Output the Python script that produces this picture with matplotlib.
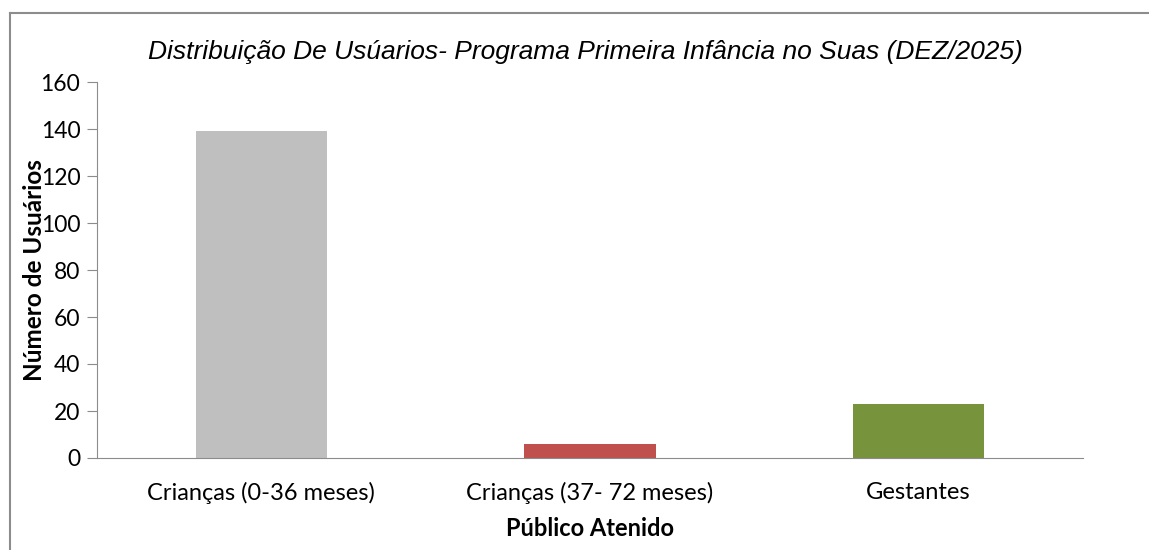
import matplotlib.pyplot as plt
from matplotlib.lines import Line2D

categorias = ['Crianças (0-36 meses)', 'Crianças (37- 72 meses)', 'Gestantes']
usuarios = [139, 6, 23]
cores = ['#BFBFBF', '#C0504D', '#77933C']
yticks = [0, 20, 40, 60, 80, 100, 120, 140, 160]

fig = plt.figure(figsize=(11.49, 5.5), dpi=100)
ax = fig.add_axes([97 / 1149, 1 - 458 / 550, (1083 - 97) / 1149, (458 - 82) / 550])

x = range(len(categorias))
ax.bar(x, usuarios, width=0.40, color=cores)

ax.set_xlim(-0.5, 2.5)
ax.set_ylim(0, 160)
ax.set_yticks(yticks)
ax.set_xticks(list(x))
ax.set_xticklabels(categorias, fontsize=17, family='Lato')
ax.set_yticklabels([str(t) for t in yticks], fontsize=16.5, family='Lato')

for s in ['top', 'right']:
    ax.spines[s].set_visible(False)
ax.spines['left'].set_color('#8c8c8c')
ax.spines['bottom'].set_color('#8c8c8c')
ax.tick_params(axis='y', length=7, color='#8c8c8c', pad=5)
ax.tick_params(axis='x', length=0, pad=17)

ax.set_xlabel('Público Atenido', fontsize=17, fontweight='bold', family='Lato')
ax.xaxis.set_label_coords(0.5, -0.157)
ax.set_ylabel('Número de Usuários', fontsize=17.5, fontweight='bold', family='Lato')
ax.yaxis.set_label_coords(-0.052, 0.5)

fig.text(585 / 1149, 1 - 52 / 550,
         'Distribuição De Usúarios- Programa Primeira Infância no Suas (DEZ/2025)',
         ha='center', va='center', fontsize=19, style='italic', family='Liberation Sans')

# moldura cinza (cortada a direita e embaixo)
fig.add_artist(Line2D([10 / 1149, 10 / 1149], [0, 1 - 13 / 550], color='#8c8c8c', lw=1.5))
fig.add_artist(Line2D([10 / 1149, 1], [1 - 13 / 550, 1 - 13 / 550], color='#8c8c8c', lw=1.5))

fig.savefig('out.png', dpi=100)
